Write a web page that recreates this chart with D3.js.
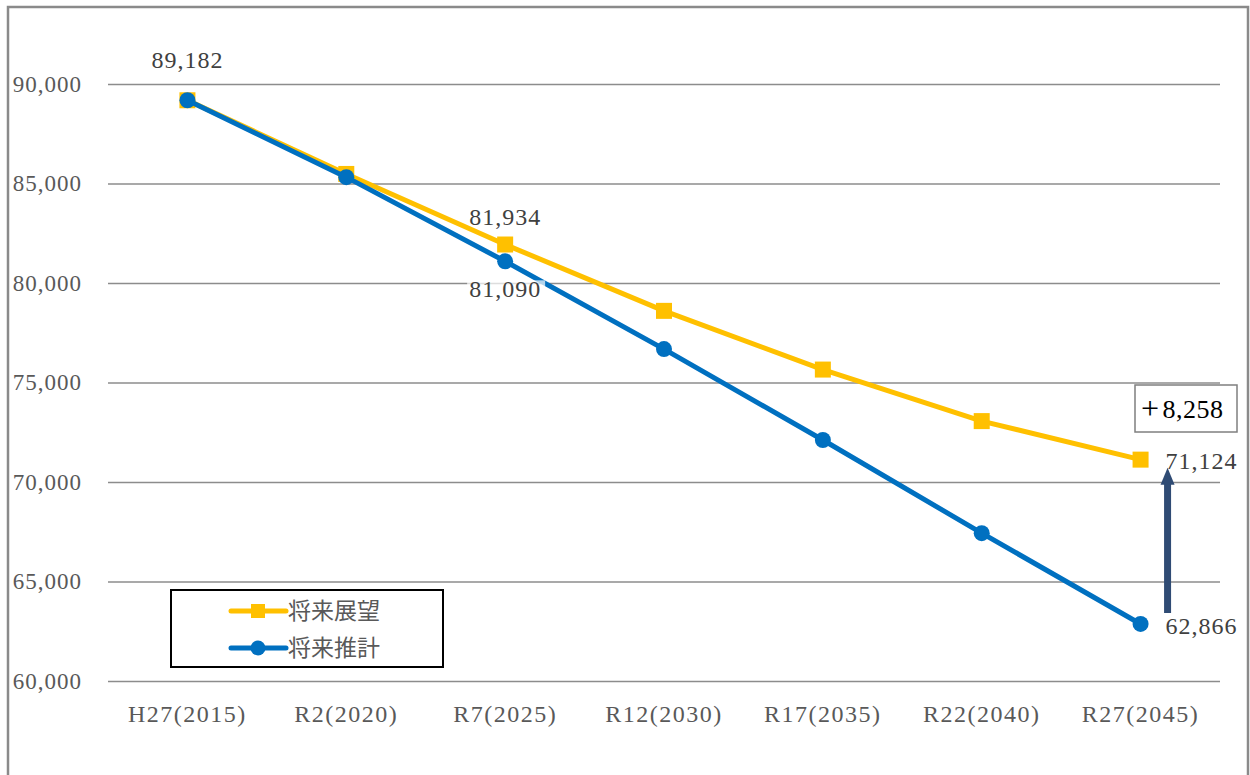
<!DOCTYPE html>
<html>
<head>
<meta charset="utf-8">
<script src="https://cdn.jsdelivr.net/npm/d3@7"></script>
<style>
  html, body { margin: 0; padding: 0; background: #fff; }
  svg { display: block; }
</style>
</head>
<body>
<svg id="chart" width="1250" height="775"></svg>
<script>
// Population outlook vs. projection
const categories = ["H27(2015)", "R2(2020)", "R7(2025)", "R12(2030)", "R17(2035)", "R22(2040)", "R27(2045)"];
const outlookName = "将来展望";
const outlookValues = [89182, 85480, 81934, 78600, 75650, 73060, 71124];
const projectionName = "将来推計";
const projectionValues = [89182, 85320, 81090, 76680, 72110, 67430, 62866];
const yTicks = [60000, 65000, 70000, 75000, 80000, 85000, 90000];
const gapLabel = "+8,258";

const svg = d3.select("#chart");
const serif = "'Liberation Serif', 'DejaVu Serif', serif";
const fmt = d3.format(",");

// outer frame
svg.append("rect")
  .attr("x", 8).attr("y", 7).attr("width", 1240).attr("height", 790)
  .attr("fill", "none").attr("stroke", "#8a8a8a").attr("stroke-width", 2.5);

const plot = { left: 108, right: 1220, top: 84, bottom: 681 };

const x = d3.scaleBand().domain(categories).range([plot.left, plot.right]).padding(0);
const cx = d => x(d) + x.bandwidth() / 2;
const y = d3.scaleLinear().domain([60000, 90000]).range([plot.bottom, plot.top]);

// gridlines + y tick labels
const yAxis = d3.axisLeft(y).tickValues(yTicks).tickSize(-(plot.right - plot.left)).tickFormat(fmt).tickPadding(26);
const gy = svg.append("g").attr("transform", `translate(${plot.left},0)`).call(yAxis);
gy.select(".domain").remove();
gy.selectAll(".tick line").attr("stroke", "#8c8c8c").attr("stroke-width", 1.6);
gy.selectAll(".tick text")
  .attr("font-family", serif).attr("font-size", 23).attr("letter-spacing", 1).attr("fill", "#595959");

// x axis labels
const xAxis = d3.axisBottom(x).tickSize(0).tickPadding(24);
const gx = svg.append("g").attr("transform", `translate(0,${plot.bottom})`).call(xAxis);
gx.select(".domain").remove();
gx.selectAll(".tick text")
  .attr("font-family", serif).attr("font-size", 24).attr("letter-spacing", 1.5).attr("fill", "#595959");

const line = d3.line().x((d, i) => cx(categories[i])).y(d => y(d));

const orange = "#ffc000";
const blue = "#0070c0";

// outlook series (squares)
svg.append("path").datum(outlookValues)
  .attr("d", line).attr("fill", "none").attr("stroke", orange).attr("stroke-width", 5).attr("stroke-linejoin", "round");
svg.append("g").selectAll("rect").data(outlookValues).join("rect")
  .attr("x", (d, i) => cx(categories[i]) - 8).attr("y", d => y(d) - 8)
  .attr("width", 16).attr("height", 16).attr("fill", orange);

// projection series (circles)
svg.append("path").datum(projectionValues)
  .attr("d", line).attr("fill", "none").attr("stroke", blue).attr("stroke-width", 5).attr("stroke-linejoin", "round");
svg.append("g").selectAll("circle").data(projectionValues).join("circle")
  .attr("cx", (d, i) => cx(categories[i])).attr("cy", d => y(d))
  .attr("r", 8).attr("fill", blue);

// data labels
function dataLabel(text, lx, ly, anchor, bg) {
  const t = svg.append("text")
    .attr("x", lx).attr("y", ly).attr("text-anchor", anchor)
    .attr("font-family", serif).attr("font-size", 24).attr("letter-spacing", 1).attr("fill", "#404040")
    .text(text);
  if (bg) {
    const b = t.node().getBBox();
    svg.insert("rect", () => t.node())
      .attr("x", b.x - 2).attr("y", b.y + 4).attr("width", b.width + 6).attr("height", b.height - 6)
      .attr("fill", "#fff").attr("opacity", 0.7);
  }
}
dataLabel(fmt(outlookValues[0]), cx(categories[0]), y(outlookValues[0]) - 32, "middle");
dataLabel(fmt(outlookValues[2]), cx(categories[2]), y(outlookValues[2]) - 20, "middle");
dataLabel(fmt(projectionValues[2]), cx(categories[2]), y(projectionValues[2]) + 36, "middle", true);
dataLabel(fmt(outlookValues[6]), cx(categories[6]) + 25, y(outlookValues[6]) + 9, "start");
dataLabel(fmt(projectionValues[6]), cx(categories[6]) + 25, y(projectionValues[6]) + 10, "start");

// gap arrow between the two series in the final year
const ax = cx(categories[6]) + 27;
const arrowColor = "#2f4b74";
svg.append("line")
  .attr("x1", ax).attr("x2", ax)
  .attr("y1", y(projectionValues[6]) - 11).attr("y2", y(outlookValues[6]) + 24)
  .attr("stroke", arrowColor).attr("stroke-width", 7);
const tipY = y(outlookValues[6]) + 8;
svg.append("path")
  .attr("d", `M${ax},${tipY} L${ax - 7},${tipY + 17} L${ax + 7},${tipY + 17} Z`)
  .attr("fill", arrowColor);

// gap callout box: a larger sign, set slightly apart from the number
const boxX = 1135, boxY = 385, boxW = 102, boxH = 47;
svg.append("rect")
  .attr("x", boxX).attr("y", boxY).attr("width", boxW).attr("height", boxH)
  .attr("fill", "#fff").attr("stroke", "#7f7f7f").attr("stroke-width", 1.5);
const gapText = svg.append("text")
  .attr("x", boxX + 6).attr("y", boxY + 33)
  .attr("font-family", serif).attr("font-size", 26).attr("letter-spacing", 0.5).attr("fill", "#000");
gapText.append("tspan").attr("font-size", 32).attr("dy", 1).text(gapLabel.slice(0, 1));
gapText.append("tspan").attr("dx", 3).attr("dy", -1).text(gapLabel.slice(1));

// legend
const lg = svg.append("g").attr("transform", "translate(171,590)");
lg.append("rect").attr("width", 272).attr("height", 77)
  .attr("fill", "#fff").attr("stroke", "#000").attr("stroke-width", 2);
const legendItems = [
  { name: outlookName, color: orange, shape: "square" },
  { name: projectionName, color: blue, shape: "circle" }
];
legendItems.forEach((it, i) => {
  const ly = 21 + i * 37;
  lg.append("line").attr("x1", 60).attr("x2", 115).attr("y1", ly).attr("y2", ly)
    .attr("stroke", it.color).attr("stroke-width", 5).attr("stroke-linecap", "round");
  if (it.shape === "square") {
    lg.append("rect").attr("x", 80).attr("y", ly - 7).attr("width", 14).attr("height", 14).attr("fill", it.color);
  } else {
    lg.append("circle").attr("cx", 87).attr("cy", ly).attr("r", 7.5).attr("fill", it.color);
  }
  lg.append("text").attr("x", 117).attr("y", ly + 8)
    .attr("font-family", "'Noto Sans CJK JP', sans-serif").attr("font-size", 23).attr("fill", "#595959")
    .text(it.name);
});
</script>
</body>
</html>
